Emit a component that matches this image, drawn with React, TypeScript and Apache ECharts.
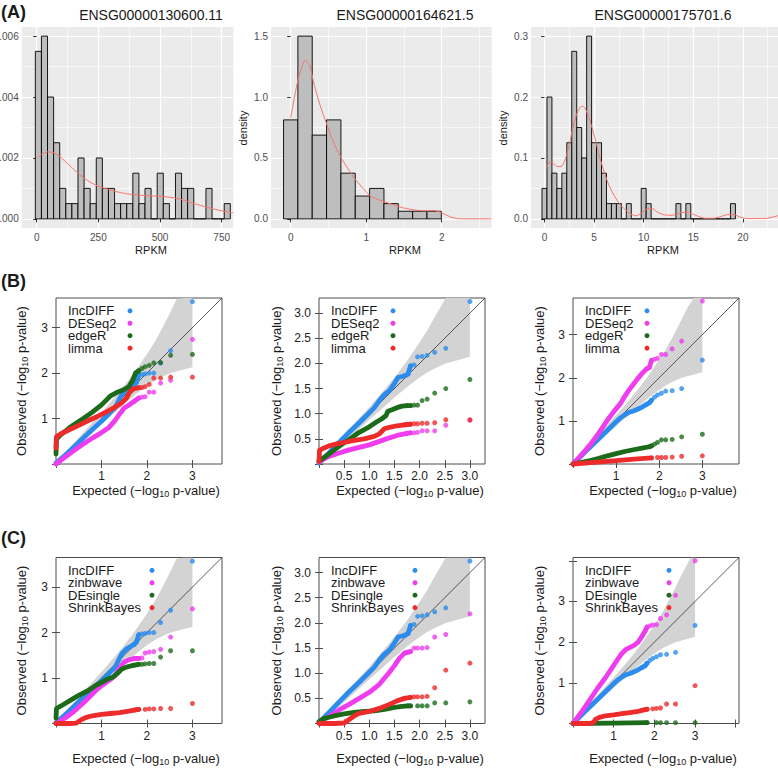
import React, { useEffect, useRef } from "react";
import * as echarts from "echarts";

const FONT = "'Liberation Sans', Arial, Helvetica, sans-serif";

// ---------------- Panel A: histograms (density scale) ----------------
const A_TITLES = ["ENSG00000130600.11", "ENSG00000164621.5", "ENSG00000175701.6"];

const A1_BIN_START = -5.5;
const A1_BIN_WIDTH = 24.7;
const A1_HEIGHTS = [0.0055, 0.006, 0.004, 0.0025, 0.001, 0.0005, 0.0005, 0.002, 0.001, 0.0005, 0.002, 0.001, 0.001, 0.0005, 0.0005, 0.0005, 0.0015, 0.0005, 0.001, 0, 0.0015, 0.0005, 0, 0.0015, 0.001, 0.001, 0, 0, 0.001, 0, 0, 0.0005];
const A1_KDE = [[0, 0.002], [20, 0.00212], [45, 0.0022], [70, 0.00217], [100, 0.002], [130, 0.00178], [160, 0.00155], [190, 0.00135], [220, 0.00119], [250, 0.00107], [280, 0.00099], [320, 0.0009], [360, 0.00083], [400, 0.00079], [450, 0.00076], [500, 0.00074], [540, 0.00071], [580, 0.00065], [620, 0.00055], [660, 0.00045], [700, 0.00036], [740, 0.00028], [797, 0.0002]];
const A1_X_TICKS = [0, 250, 500, 750];
const A1_X_MINOR = [125, 375, 625];
const A1_Y_TICKS = [0, 0.002, 0.004, 0.006];
const A1_Y_MINOR = [0.001, 0.003, 0.005];

const A2_BIN_START = -0.095;
const A2_BIN_WIDTH = 0.19;
const A2_HEIGHTS = [0.8125, 1.5, 0.6875, 0.8125, 0.375, 0.1875, 0.25, 0.125, 0.0625, 0.0625, 0.0625];
const A2_KDE = [[0, 0.83], [0.05, 1.0], [0.1, 1.15], [0.15, 1.25], [0.19, 1.3], [0.25, 1.26], [0.3, 1.13], [0.38, 0.95], [0.47, 0.79], [0.56, 0.64], [0.66, 0.51], [0.76, 0.41], [0.86, 0.32], [0.96, 0.25], [1.05, 0.19], [1.15, 0.16], [1.24, 0.14], [1.34, 0.12], [1.43, 0.1], [1.53, 0.085], [1.62, 0.075], [1.72, 0.068], [1.81, 0.066], [1.9, 0.068], [1.97, 0.058], [2.05, 0.035], [2.12, 0.015], [2.2, 0.003], [2.3, 0], [2.66, 0]];
const A2_X_TICKS = [0, 1, 2];
const A2_X_MINOR = [0.5, 1.5, 2.5];
const A2_Y_TICKS = [0, 0.5, 1.0, 1.5];
const A2_Y_MINOR = [0.25, 0.75, 1.25];

const A3_BIN_START = -0.25;
const A3_BIN_WIDTH = 0.5;
const A3_HEIGHTS = [0.05, 0.2, 0.075, 0.05, 0.075, 0.125, 0.275, 0.15, 0.1, 0.3, 0.125, 0.125, 0.075, 0.025, 0.025, 0.025, 0, 0.025, 0, 0, 0.05, 0.025, 0, 0, 0, 0, 0, 0.025, 0, 0.025, 0, 0, 0, 0, 0, 0, 0, 0, 0.025];
const A3_KDE = [[0.17, 0.083], [0.45, 0.092], [0.67, 0.094], [0.95, 0.09], [1.3, 0.086], [1.68, 0.086], [2.0, 0.094], [2.4, 0.115], [2.8, 0.145], [3.2, 0.17], [3.6, 0.183], [3.87, 0.185], [4.2, 0.178], [4.6, 0.16], [5.05, 0.135], [5.5, 0.105], [6.06, 0.075], [6.5, 0.055], [7.07, 0.037], [7.6, 0.024], [8.08, 0.016], [8.7, 0.008], [9.26, 0.005], [9.8, 0.01], [10.4, 0.017], [10.8, 0.017], [11.3, 0.012], [11.8, 0.008], [12.4, 0.006], [12.9, 0.006], [13.5, 0.009], [14.2, 0.011], [14.8, 0.009], [15.5, 0.004], [16.2, 0.001], [17.0, 0.001], [17.8, 0.004], [18.5, 0.007], [19.1, 0.007], [19.7, 0.003], [20.5, 0.0005], [21.5, 0.0005], [22.5, 0.001], [23.5, 0.005], [24.5, 0.006]];
const A3_X_TICKS = [0, 5, 10, 15, 20];
const A3_X_MINOR = [2.5, 7.5, 12.5, 17.5, 22.5];
const A3_Y_TICKS = [0, 0.1, 0.2, 0.3];
const A3_Y_MINOR = [0.05, 0.15, 0.25];

// ---------------- Panels B and C: QQ plots ----------------
const LEGEND_B = ["IncDIFF", "DESeq2", "edgeR", "limma"];
const LEGEND_C = ["IncDIFF", "zinbwave", "DEsingle", "ShrinkBayes"];

// 95% band (expected vs observed -log10 p), same in every QQ panel
const BAND_UPPER = [[0, 0], [0.25, 0.3], [0.5, 0.58], [0.75, 0.86], [1.0, 1.13], [1.25, 1.42], [1.5, 1.72], [1.75, 2.05], [2.0, 2.42], [2.15, 2.65], [2.3, 2.92], [2.52, 3.35], [2.65, 3.62], [2.8, 3.9], [2.9, 4.15], [3.0, 4.4]];
const BAND_LOWER = [[0, 0], [0.25, 0.2], [0.5, 0.42], [0.75, 0.65], [1.0, 0.88], [1.25, 1.1], [1.5, 1.32], [1.75, 1.53], [2.0, 1.72], [2.15, 1.82], [2.3, 1.9], [2.52, 2.0], [3.0, 2.13]];

const COL1_INCDIFF = [[0, 0.02], [0.2, 0.19], [0.4, 0.38], [0.6, 0.57], [0.8, 0.76], [1.0, 0.94], [1.1, 1.04], [1.2, 1.14], [1.3, 1.24], [1.37, 1.38], [1.45, 1.54], [1.55, 1.64], [1.65, 1.7], [1.72, 1.74], [1.77, 1.8], [1.82, 1.95], [1.89, 1.97], [1.96, 1.98], [2.05, 2.0], [2.15, 2.0], [2.3, 2.22], [2.52, 2.49], [3.0, 3.57]];
const COL2_INCDIFF = [[0, 0.02], [0.2, 0.22], [0.4, 0.43], [0.6, 0.63], [0.8, 0.82], [1.0, 1.02], [1.1, 1.12], [1.2, 1.26], [1.3, 1.38], [1.4, 1.46], [1.5, 1.6], [1.57, 1.72], [1.65, 1.74], [1.72, 1.76], [1.77, 1.79], [1.82, 1.95], [1.89, 1.97], [1.96, 2.13], [2.05, 2.14], [2.15, 2.16], [2.3, 2.22], [2.52, 2.3], [3.0, 3.23]];
const COL3_INCDIFF = [[0, 0], [0.3, 0.3], [0.6, 0.59], [0.9, 0.88], [1.0, 0.98], [1.1, 1.07], [1.2, 1.14], [1.3, 1.2], [1.4, 1.23], [1.5, 1.27], [1.6, 1.32], [1.7, 1.38], [1.77, 1.42], [1.82, 1.48], [1.89, 1.55], [1.96, 1.6], [2.05, 1.64], [2.15, 1.69], [2.3, 1.7], [2.52, 1.75], [3.0, 2.41]];

const B1_DESEQ2 = [[0, 0], [0.2, 0.15], [0.4, 0.3], [0.6, 0.44], [0.8, 0.57], [1.0, 0.69], [1.15, 0.79], [1.3, 0.96], [1.4, 1.1], [1.5, 1.23], [1.62, 1.31], [1.72, 1.38], [1.82, 1.45], [1.89, 1.47], [1.96, 1.48], [2.05, 1.58], [2.15, 1.58], [2.3, 1.78], [2.52, 1.84], [3.0, 2.74]];
const B1_EDGER = [[0, 0.22], [0.01, 0.55], [0.1, 0.64], [0.2, 0.72], [0.3, 0.8], [0.45, 0.9], [0.6, 1.0], [0.8, 1.14], [1.0, 1.3], [1.1, 1.4], [1.2, 1.5], [1.35, 1.58], [1.5, 1.64], [1.6, 1.7], [1.68, 1.83], [1.75, 2.0], [1.82, 2.05], [1.89, 2.1], [1.96, 2.14], [2.05, 2.17], [2.15, 2.22], [2.3, 2.23], [2.52, 2.39], [3.0, 2.41]];
const B1_LIMMA = [[0, 0.35], [0.01, 0.6], [0.1, 0.66], [0.2, 0.71], [0.35, 0.78], [0.5, 0.85], [0.7, 0.95], [0.9, 1.04], [1.1, 1.14], [1.3, 1.25], [1.45, 1.35], [1.55, 1.45], [1.62, 1.58], [1.7, 1.65], [1.82, 1.68], [1.89, 1.68], [1.96, 1.7], [2.05, 1.75], [2.15, 1.89], [2.3, 1.89], [2.52, 1.91], [3.0, 1.91]];

const B2_DESEQ2 = [[0, 0.04], [0.1, 0.1], [0.2, 0.15], [0.4, 0.22], [0.6, 0.28], [0.8, 0.33], [1.0, 0.38], [1.2, 0.45], [1.4, 0.52], [1.6, 0.58], [1.75, 0.61], [1.82, 0.62], [1.89, 0.62], [1.96, 0.63], [2.05, 0.66], [2.15, 0.66], [2.3, 0.66], [2.52, 0.77], [3.0, 0.87]];
const B2_EDGER = [[0, 0.06], [0.2, 0.2], [0.4, 0.35], [0.6, 0.49], [0.8, 0.63], [1.0, 0.74], [1.15, 0.84], [1.25, 0.9], [1.33, 0.96], [1.37, 1.05], [1.45, 1.08], [1.55, 1.12], [1.65, 1.15], [1.75, 1.16], [1.82, 1.16], [1.89, 1.17], [1.96, 1.17], [2.05, 1.26], [2.15, 1.29], [2.3, 1.41], [2.52, 1.5], [3.0, 1.68]];
const B2_LIMMA = [[0, 0.05], [0.01, 0.27], [0.1, 0.32], [0.2, 0.36], [0.35, 0.4], [0.5, 0.43], [0.7, 0.47], [0.9, 0.5], [1.1, 0.55], [1.2, 0.6], [1.3, 0.7], [1.4, 0.73], [1.55, 0.76], [1.7, 0.78], [1.82, 0.79], [1.89, 0.8], [1.96, 0.8], [2.05, 0.81], [2.15, 0.81], [2.3, 0.82], [2.52, 0.88], [3.0, 0.88]];

const B3_DESEQ2 = [[0, 0], [0.2, 0.22], [0.4, 0.45], [0.6, 0.72], [0.8, 1.02], [0.95, 1.22], [1.1, 1.4], [1.2, 1.57], [1.3, 1.72], [1.4, 1.85], [1.5, 1.98], [1.6, 2.1], [1.7, 2.2], [1.77, 2.24], [1.82, 2.4], [1.89, 2.43], [1.96, 2.45], [2.05, 2.54], [2.15, 2.54], [2.3, 2.67], [2.52, 2.85], [3.0, 3.78]];
const B3_EDGER = [[0, 0], [0.2, 0.04], [0.4, 0.08], [0.6, 0.13], [0.8, 0.19], [1.0, 0.24], [1.2, 0.29], [1.4, 0.33], [1.6, 0.37], [1.77, 0.4], [1.82, 0.42], [1.89, 0.46], [1.96, 0.5], [2.05, 0.56], [2.15, 0.56], [2.3, 0.57], [2.52, 0.63], [3.0, 0.69]];
const B3_LIMMA = [[0, 0], [0.5, 0.04], [1.0, 0.08], [1.5, 0.12], [1.82, 0.14], [1.96, 0.15], [2.05, 0.15], [2.15, 0.15], [2.3, 0.16], [2.52, 0.18], [3.0, 0.19]];

const C1_ZINBWAVE = [[0, 0], [0.2, 0.12], [0.4, 0.27], [0.6, 0.45], [0.8, 0.65], [0.9, 0.75], [1.0, 0.83], [1.2, 0.97], [1.3, 1.05], [1.38, 1.2], [1.5, 1.35], [1.6, 1.4], [1.72, 1.43], [1.82, 1.43], [1.89, 1.44], [1.96, 1.55], [2.05, 1.57], [2.15, 1.58], [2.3, 1.63], [2.52, 1.9], [3.0, 2.52]];
const C1_DESINGLE = [[0, 0.12], [0.01, 0.33], [0.1, 0.38], [0.2, 0.44], [0.35, 0.53], [0.5, 0.62], [0.7, 0.72], [0.9, 0.85], [1.1, 0.96], [1.25, 1.02], [1.35, 1.1], [1.45, 1.2], [1.55, 1.24], [1.7, 1.28], [1.82, 1.3], [1.89, 1.3], [1.96, 1.31], [2.05, 1.32], [2.15, 1.32], [2.3, 1.46], [2.52, 1.6], [3.0, 1.6]];
const C1_SHRINKBAYES = [[0, 0], [0.3, 0], [0.45, 0.01], [0.55, 0.08], [0.65, 0.13], [0.8, 0.17], [1.0, 0.2], [1.2, 0.22], [1.4, 0.24], [1.6, 0.27], [1.75, 0.3], [1.82, 0.31], [1.96, 0.31], [2.05, 0.32], [2.15, 0.32], [2.3, 0.33], [2.52, 0.33], [3.0, 0.44]];

const C2_ZINBWAVE = [[0, 0.02], [0.2, 0.14], [0.4, 0.27], [0.6, 0.38], [0.8, 0.5], [1.0, 0.62], [1.1, 0.7], [1.2, 0.78], [1.3, 0.9], [1.4, 1.02], [1.5, 1.15], [1.6, 1.3], [1.7, 1.4], [1.77, 1.42], [1.82, 1.43], [1.89, 1.5], [1.96, 1.5], [2.05, 1.5], [2.15, 1.51], [2.3, 1.72], [2.52, 1.77], [3.0, 2.18]];
const C2_DESINGLE = [[0, 0.04], [0.1, 0.1], [0.3, 0.15], [0.5, 0.19], [0.7, 0.22], [0.9, 0.24], [1.1, 0.25], [1.3, 0.28], [1.5, 0.32], [1.65, 0.34], [1.77, 0.35], [1.82, 0.35], [1.96, 0.35], [2.05, 0.35], [2.15, 0.35], [2.3, 0.41], [2.52, 0.41], [3.0, 0.43]];
const C2_SHRINKBAYES = [[0, 0], [0.3, 0], [0.5, 0.01], [0.6, 0.08], [0.7, 0.15], [0.8, 0.2], [1.0, 0.24], [1.2, 0.3], [1.4, 0.38], [1.55, 0.45], [1.7, 0.5], [1.82, 0.52], [1.89, 0.53], [1.96, 0.53], [2.05, 0.53], [2.15, 0.54], [2.3, 0.71], [2.52, 1.06], [3.0, 1.2]];

const C3_ZINBWAVE = [[0, 0], [0.2, 0.27], [0.4, 0.56], [0.6, 0.86], [0.8, 1.13], [1.0, 1.43], [1.1, 1.58], [1.2, 1.72], [1.3, 1.82], [1.4, 1.87], [1.5, 1.92], [1.6, 2.0], [1.7, 2.15], [1.77, 2.27], [1.82, 2.37], [1.89, 2.4], [1.96, 2.42], [2.05, 2.43], [2.15, 2.58], [2.3, 2.67], [2.52, 3.15], [3.0, 4.0]];
const C3_DESINGLE = [[0, 0], [1.0, 0.01], [1.82, 0.02], [2.05, 0.02], [2.15, 0.02], [2.3, 0.02], [2.52, 0.02], [3.0, 0.02]];
const C3_SHRINKBAYES = [[0, 0], [0.4, 0], [0.5, 0.02], [0.55, 0.1], [0.65, 0.15], [0.8, 0.19], [1.0, 0.21], [1.2, 0.24], [1.4, 0.27], [1.6, 0.3], [1.77, 0.34], [1.82, 0.35], [1.96, 0.36], [2.05, 0.37], [2.15, 0.38], [2.3, 0.48], [2.52, 0.48], [3.0, 0.93]];

// axis extents / ticks of the QQ panels (B1,B2,B3,C1,C2,C3)
const QQ_MAX = [3.65, 3.3, 3.85, 3.65, 3.3, 4.08];
const QQ_TICKS_INT3 = [0, 1, 2, 3];
const QQ_TICKS_INT4 = [0, 1, 2, 3, 4];
const QQ_TICKS_HALF = [0, 0.5, 1.0, 1.5, 2.0, 2.5, 3.0];
const QQ_LABELS_INT = [1, 2, 3];
const QQ_LABELS_HALF = [0.5, 1.0, 1.5, 2.0, 2.5, 3.0];

// ---------------- styling / layout (not data) ----------------
const METHOD_COLORS = ["#2b8cee", "#ee3cee", "#1b6b1b", "#ee2b2b"];
const A_TOP = 27;
const A_HEIGHT = 201;
const COL_LEFT = [56, 319, 573];
const ROW_TOP = [298, 557.5];
const QQ_SIZE = 166;

function buildOption() {
  const grid: any[] = [];
  const xAxis: any[] = [];
  const yAxis: any[] = [];
  const series: any[] = [];
  const graphic: any[] = [];

  const text = (x: number, y: number, t: string, size: number, extra: any = {}, rot = 0) => ({
    type: "text", x, y, rotation: rot, silent: true, z: 100,
    style: { text: t, fontSize: size, fontFamily: FONT, fill: "#1a1a1a", align: "center", verticalAlign: "middle", ...extra },
  });

  // ---- histograms ----
  const hist = [
    { heights: A1_HEIGHTS, start: A1_BIN_START, bw: A1_BIN_WIDTH, kde: A1_KDE, xt: A1_X_TICKS, xm: A1_X_MINOR, yt: A1_Y_TICKS, ym: A1_Y_MINOR, dig: 3, left: 21.7, width: 211.6, xMin: -60.8, xMax: 797, yMin: -0.0003, yMax: 0.0063, titleX: 151, densX: null as number | null },
    { heights: A2_HEIGHTS, start: A2_BIN_START, bw: A2_BIN_WIDTH, kde: A2_KDE, xt: A2_X_TICKS, xm: A2_X_MINOR, yt: A2_Y_TICKS, ym: A2_Y_MINOR, dig: 1, left: 271, width: 220.7, xMin: -0.261, xMax: 2.662, yMin: -0.075, yMax: 1.575, titleX: 405, densX: 243 },
    { heights: A3_HEIGHTS, start: A3_BIN_START, bw: A3_BIN_WIDTH, kde: A3_KDE, xt: A3_X_TICKS, xm: A3_X_MINOR, yt: A3_Y_TICKS, ym: A3_Y_MINOR, dig: 1, left: 531, width: 259, xMin: -1.36, xMax: 24.75, yMin: -0.015, yMax: 0.315, titleX: 663, densX: 503 },
  ];

  hist.forEach((h, i) => {
    const gi = grid.length;
    grid.push({ left: h.left, top: A_TOP, width: h.width, height: A_HEIGHT, show: true, backgroundColor: "#EBEBEB", borderWidth: 0, outerBoundsMode: "none", containLabel: false });
    const xi = xAxis.length;
    const yi = yAxis.length;
    const tickStyle = { lineStyle: { color: "#333333", width: 1 } };
    xAxis.push({
      gridIndex: gi, type: "value", min: h.xMin, max: h.xMax, position: "bottom",
      axisLine: { show: false },
      axisTick: { show: true, length: 3.5, ...tickStyle, customValues: h.xt },
      axisLabel: { show: true, customValues: h.xt, color: "#4D4D4D", fontSize: 10, fontFamily: FONT, margin: 4 },
      splitLine: { show: true, lineStyle: { color: "#FFFFFF", width: 1.2 } },
    });
    xAxis.push({
      gridIndex: gi, type: "value", min: h.xMin, max: h.xMax, position: "top",
      axisLine: { show: false }, axisTick: { show: false, customValues: h.xm }, axisLabel: { show: false },
      splitLine: { show: true, lineStyle: { color: "#FFFFFF", width: 0.6 } },
    });
    yAxis.push({
      gridIndex: gi, type: "value", min: h.yMin, max: h.yMax, position: "left",
      axisLine: { show: false },
      axisTick: { show: true, length: 3.5, ...tickStyle, customValues: h.yt },
      axisLabel: { show: true, customValues: h.yt, formatter: (v: number) => v.toFixed(h.dig), color: "#4D4D4D", fontSize: 10, fontFamily: FONT, margin: 3 },
      splitLine: { show: true, lineStyle: { color: "#FFFFFF", width: 1.2 } },
    });
    yAxis.push({
      gridIndex: gi, type: "value", min: h.yMin, max: h.yMax, position: "right",
      axisLine: { show: false }, axisTick: { show: false, customValues: h.ym }, axisLabel: { show: false },
      splitLine: { show: true, lineStyle: { color: "#FFFFFF", width: 0.6 } },
    });
    series.push({
      type: "custom", xAxisIndex: xi, yAxisIndex: yi, silent: true, z: 3,
      data: h.heights.map((v, k) => [h.start + k * h.bw, h.start + (k + 1) * h.bw, v]),
      encode: { x: [0, 1], y: 2 },
      renderItem: (_p: any, api: any) => {
        const a = api.coord([api.value(0), api.value(2)]);
        const b = api.coord([api.value(1), 0]);
        return { type: "rect", shape: { x: a[0], y: a[1], width: b[0] - a[0], height: b[1] - a[1] }, style: { fill: "#BEBEBE", stroke: "#000000", lineWidth: 0.9 } };
      },
    });
    series.push({
      type: "line", xAxisIndex: xi, yAxisIndex: yi, silent: true, z: 4, data: h.kde,
      symbol: "none", smooth: 0.3, lineStyle: { color: "#F8766D", width: 1 },
    });
    graphic.push(text(h.titleX, 15, A_TITLES[i], 14));
    graphic.push(text(h.titleX, 250, "RPKM", 11));
    if (h.densX !== null) graphic.push(text(h.densX, 128, "density", 11, {}, Math.PI / 2));
  });

  // ---- QQ plots ----
  const qq = [
    { methods: [COL1_INCDIFF, B1_DESEQ2, B1_EDGER, B1_LIMMA], names: LEGEND_B, ticks: QQ_TICKS_INT3, labels: QQ_LABELS_INT, dig: 0 },
    { methods: [COL2_INCDIFF, B2_DESEQ2, B2_EDGER, B2_LIMMA], names: LEGEND_B, ticks: QQ_TICKS_HALF, labels: QQ_LABELS_HALF, dig: 1 },
    { methods: [COL3_INCDIFF, B3_DESEQ2, B3_EDGER, B3_LIMMA], names: LEGEND_B, ticks: QQ_TICKS_INT3, labels: QQ_LABELS_INT, dig: 0 },
    { methods: [COL1_INCDIFF, C1_ZINBWAVE, C1_DESINGLE, C1_SHRINKBAYES], names: LEGEND_C, ticks: QQ_TICKS_INT3, labels: QQ_LABELS_INT, dig: 0 },
    { methods: [COL2_INCDIFF, C2_ZINBWAVE, C2_DESINGLE, C2_SHRINKBAYES], names: LEGEND_C, ticks: QQ_TICKS_HALF, labels: QQ_LABELS_HALF, dig: 1 },
    { methods: [COL3_INCDIFF, C3_ZINBWAVE, C3_DESINGLE, C3_SHRINKBAYES], names: LEGEND_C, ticks: QQ_TICKS_INT4, labels: QQ_LABELS_INT, dig: 0 },
  ];

  const LOG_RICH = {
    a: { fontSize: 13, fontFamily: FONT, fill: "#1a1a1a", lineHeight: 16 },
    b: { fontSize: 9, fontFamily: FONT, fill: "#1a1a1a", lineHeight: 9, padding: [6, 0, 0, 0], verticalAlign: "bottom" },
  };
  const OBS_X = [21, 276, 539];
  const EXP_X = [146, 410, 663];
  const EXP_Y = [490, 758];
  const LEG_DOT = [74, 96];

  qq.forEach((p, i) => {
    const col = i % 3;
    const row = Math.floor(i / 3);
    const M = QQ_MAX[i];
    const left = COL_LEFT[col];
    const top = ROW_TOP[row];
    const gi = grid.length;
    grid.push({ left, top, width: QQ_SIZE, height: QQ_SIZE, show: true, backgroundColor: "transparent", borderColor: "#4d4d4d", borderWidth: 1, outerBoundsMode: "none", containLabel: false });
    const xi = xAxis.length;
    const yi = yAxis.length;
    const tick = { show: true, length: 4, inside: false, lineStyle: { color: "#4d4d4d", width: 1 }, customValues: p.ticks };
    const lab = { show: true, customValues: p.labels, formatter: (v: number) => v.toFixed(p.dig), fontSize: 12, fontFamily: FONT, color: "#222222" };
    const base = { gridIndex: gi, type: "value", min: 0, max: M, axisLine: { show: false }, splitLine: { show: false } };
    xAxis.push({ ...base, position: "bottom", axisTick: tick, axisLabel: { ...lab, margin: 6 } });
    xAxis.push({ ...base, position: "top", axisTick: tick, axisLabel: { show: false } });
    yAxis.push({ ...base, position: "left", axisTick: tick, axisLabel: { ...lab, margin: 8 } });
    yAxis.push({ ...base, position: "right", axisTick: tick, axisLabel: { show: false } });

    series.push({
      type: "custom", xAxisIndex: xi, yAxisIndex: yi, silent: true, z: 1, clip: true,
      data: [[0, 0]],
      renderItem: (_p: any, api: any) => {
        const pts = BAND_UPPER.concat(BAND_LOWER.slice().reverse()).map((q) => api.coord([q[0], Math.min(q[1], M)]));
        return { type: "polygon", shape: { points: pts }, style: { fill: "#D3D3D3" } };
      },
    });
    series.push({
      type: "line", xAxisIndex: xi, yAxisIndex: yi, silent: true, z: 2, symbol: "none",
      data: [[0, 0], [M, M]], lineStyle: { color: "#333333", width: 0.8 },
    });
    p.methods.forEach((d, j) => {
      series.push({
        type: "line", name: p.names[j], xAxisIndex: xi, yAxisIndex: yi, silent: true, z: 3 + j, clip: false,
        symbol: "none", data: d.filter((q) => q[0] <= 1.83),
        lineStyle: { color: METHOD_COLORS[j], width: 4.8, cap: "round", join: "round" },
      });
      series.push({
        type: "scatter", name: p.names[j], xAxisIndex: xi, yAxisIndex: yi, silent: true, z: 3 + j, clip: false,
        symbol: "circle", symbolSize: 5, data: d.filter((q) => q[0] >= 1.7),
        itemStyle: { color: METHOD_COLORS[j] },
      });
    });

    // legend
    p.names.forEach((n, j) => {
      const y = top + 12.8 + j * 12.45;
      graphic.push(text(left + 12, y, n, 13, { align: "left", lineHeight: 12 }));
      graphic.push({ type: "circle", silent: true, z: 100, shape: { cx: left + LEG_DOT[row], cy: y, r: 2.5 }, style: { fill: METHOD_COLORS[j] } });
    });

    graphic.push(text(OBS_X[col], top + QQ_SIZE / 2, "{a|Observed (\u2212log}{b|10}{a| p-value)}", 13, { rich: LOG_RICH }, Math.PI / 2));
    graphic.push(text(EXP_X[col], EXP_Y[row], "{a|Expected (\u2212log}{b|10}{a| p-value)}", 13, { rich: LOG_RICH }));
  });

  graphic.push(text(1, 12, "(A)", 18, { fontWeight: "bold", align: "left" }));
  graphic.push(text(1, 281, "(B)", 18, { fontWeight: "bold", align: "left" }));
  graphic.push(text(1, 538, "(C)", 18, { fontWeight: "bold", align: "left" }));

  return {
    animation: false,
    backgroundColor: "#ffffff",
    textStyle: { fontFamily: FONT },
    grid, xAxis, yAxis, series, graphic,
  };
}

export default function App() {
  const ref = useRef<HTMLDivElement>(null);
  useEffect(() => {
    if (!ref.current) return;
    const chart = echarts.init(ref.current, null, { renderer: "svg" });
    chart.setOption(buildOption() as any);
    return () => chart.dispose();
  }, []);
  return <div ref={ref} style={{ position: "absolute", left: 0, top: 0, width: 778, height: 768, background: "#fff" }} />;
}
